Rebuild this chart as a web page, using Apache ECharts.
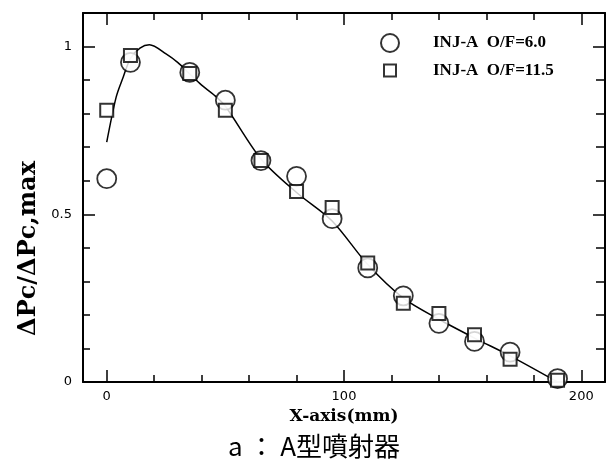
<!DOCTYPE html>
<html>
<head>
<meta charset="utf-8">
<script src="https://cdn.jsdelivr.net/npm/echarts@6.0.0/dist/echarts.min.js"></script>
<style>
  html, body { margin: 0; padding: 0; background: #fff; }
  #chart { width: 611px; height: 461px; }
</style>
</head>
<body>
<div id="chart"></div>
<script>
// 读图得到的数据
const xCircle = [0, 10, 35, 50, 65, 80, 95, 110, 125, 140, 155, 170, 190];
const yCircle = [0.606, 0.953, 0.923, 0.84, 0.66, 0.613, 0.487, 0.34, 0.257, 0.175, 0.121, 0.089, 0.01];
const xSquare = [0, 10, 35, 50, 65, 80, 95, 110, 125, 140, 155, 170, 190];
const ySquare = [0.81, 0.973, 0.92, 0.81, 0.66, 0.568, 0.52, 0.355, 0.235, 0.204, 0.141, 0.068, 0.005];
// 拟合曲线
const xFit = [0, 4, 7, 10, 14, 18, 25, 30, 35, 40, 45, 50, 65, 80, 95, 110, 125, 140, 155, 170, 190];
const yFit = [0.715, 0.85, 0.91, 0.965, 0.995, 1.005, 0.978, 0.952, 0.918, 0.885, 0.857, 0.822, 0.665, 0.565, 0.48, 0.35, 0.25, 0.187, 0.131, 0.078, 0.0];

const seriesNames = ["INJ-A  O/F=6.0", "INJ-A  O/F=11.5"];
const xMajor = [0, 100, 200];
const xMinor = [0, 20, 40, 60, 80, 100, 120, 140, 160, 180, 200];
const yMajor = [0, 0.5, 1];
const yMinor = [0, 0.1, 0.2, 0.3, 0.4, 0.5, 0.6, 0.7, 0.8, 0.9, 1];

const black = "#000";
const serif = "Liberation Serif";

const pairs = (xs, ys) => xs.map((x, i) => [x, ys[i]]);

const makeX = (position, ticks, len, showLine, labels) => ({
  type: "value",
  position: position,
  min: -10,
  max: 210,
  axisLine: { show: showLine, onZero: false, lineStyle: { color: black, width: 2 } },
  axisTick: { show: true, inside: true, length: len, customValues: ticks, lineStyle: { color: black, width: 1.5 } },
  axisLabel: labels
    ? { show: true, customValues: labels, margin: 8, color: black, fontFamily: "DejaVu Sans", fontSize: 13 }
    : { show: false },
  splitLine: { show: false }
});

const makeY = (position, ticks, len, showLine, labels) => ({
  type: "value",
  position: position,
  min: 0,
  max: 1.1,
  axisLine: { show: showLine, onZero: false, lineStyle: { color: black, width: 2 } },
  axisTick: { show: true, inside: true, length: len, customValues: ticks, lineStyle: { color: black, width: 1.5 } },
  axisLabel: labels
    ? { show: true, customValues: labels, margin: 11, color: black, fontFamily: "DejaVu Sans", fontSize: 13 }
    : { show: false },
  splitLine: { show: false }
});

const xBottom = makeX("bottom", xMinor, 7, true, xMajor);
xBottom.name = "X-axis(mm)";
xBottom.nameLocation = "middle";
xBottom.nameGap = 24;
xBottom.nameTextStyle = { color: black, fontFamily: "DejaVu Serif", fontWeight: "bold", fontSize: 17 };

const yLeft = makeY("left", yMinor, 7, true, yMajor);
yLeft.name = "ΔPc/ΔPc,max";
yLeft.nameLocation = "middle";
yLeft.nameGap = 42;
yLeft.nameTextStyle = {
  color: black, fontFamily: "DejaVu Serif", fontWeight: "bold", fontSize: 24,
  padding: [0, 102, 0, 0]
};

const chart = echarts.init(document.getElementById("chart"), null, { renderer: "canvas" });
chart.setOption({
  animation: false,
  backgroundColor: "#fff",
  title: {
    text: "a ： A型噴射器",
    left: 228,
    top: 432,
    padding: 0,
    textStyle: { color: black, fontFamily: "Noto Sans CJK JP", fontWeight: "normal", fontSize: 26, lineHeight: 28 }
  },
  legend: [
    {
      data: [seriesNames[0]],
      left: 380,
      top: 33,
      padding: 0,
      itemWidth: 76,
      itemHeight: 18,
      icon: "circle",
      textStyle: { color: black, fontFamily: serif, fontWeight: "bold", fontSize: 17 }
    },
    {
      data: [seriesNames[1]],
      left: 383,
      top: 62,
      padding: 0,
      itemWidth: 76,
      itemHeight: 12,
      icon: "path://M0,0H10V10H0Z",
      textStyle: { color: black, fontFamily: serif, fontWeight: "bold", fontSize: 17 }
    }
  ],
  grid: { left: 83, right: 6, top: 13, bottom: 79, containLabel: false },
  xAxis: [
    xBottom,
    makeX("bottom", xMajor, 12, false, null),
    makeX("top", xMinor, 7, true, null),
    makeX("top", xMajor, 12, false, null)
  ],
  yAxis: [
    yLeft,
    makeY("left", yMajor, 12, false, null),
    makeY("right", yMinor, 9, true, null),
    makeY("right", yMajor, 12, false, null)
  ],
  series: [
    {
      name: "fit",
      type: "line",
      data: pairs(xFit, yFit),
      smooth: 0.3,
      symbol: "none",
      lineStyle: { color: black, width: 1.5 },
      z: 2,
      silent: true
    },
    {
      name: seriesNames[0],
      type: "scatter",
      data: pairs(xCircle, yCircle),
      symbol: "circle",
      symbolSize: 19,
      itemStyle: { color: "#fff", borderColor: black, borderWidth: 1.8 },
      z: 3
    },
    {
      name: seriesNames[1],
      type: "scatter",
      data: pairs(xSquare, ySquare),
      symbol: "rect",
      symbolSize: 13,
      itemStyle: { color: "#fff", borderColor: black, borderWidth: 2 },
      z: 4
    }
  ]
});
</script>
</body>
</html>
